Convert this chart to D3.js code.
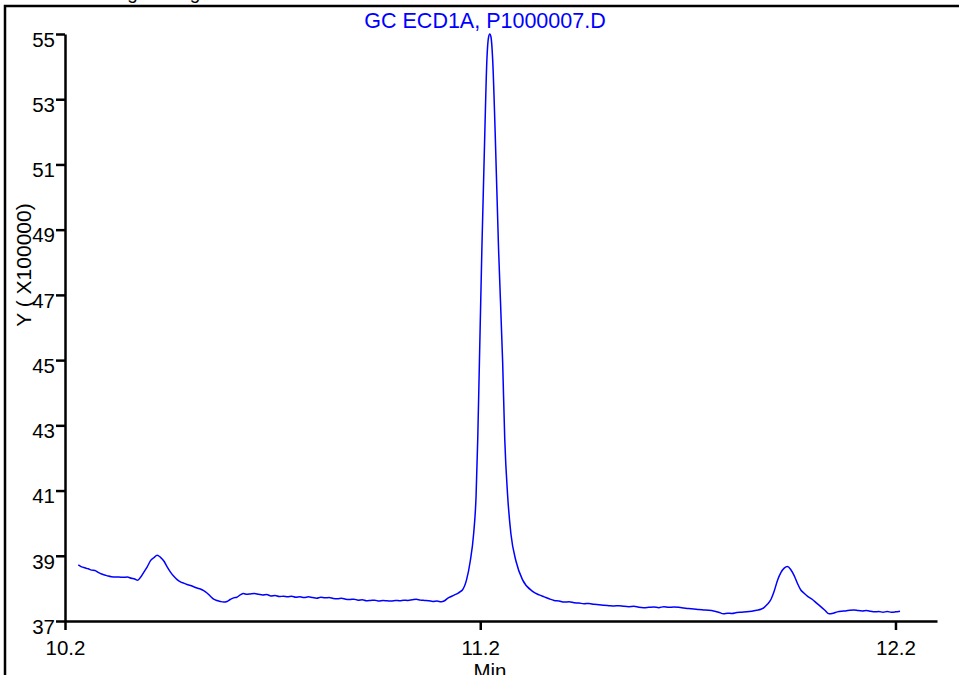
<!DOCTYPE html>
<html>
<head>
<meta charset="utf-8">
<script src="https://cdn.jsdelivr.net/npm/d3@7"></script>
<style>
  html, body { margin: 0; padding: 0; background: #fff; overflow: hidden; }
  svg { display: block; font-family: "Liberation Sans", Arial, sans-serif; }
</style>
</head>
<body>
<svg id="chart" width="959" height="675"></svg>
<script>
// retention time (min) and detector response (x100000)
const times = [
  10.232, 10.240, 10.248, 10.256, 10.264, 10.272, 10.280, 10.288, 10.296, 10.304,
  10.312, 10.320, 10.330, 10.340, 10.350, 10.360, 10.368, 10.375, 10.382, 10.390,
  10.398, 10.406, 10.414, 10.422, 10.430, 10.438, 10.446, 10.454, 10.462, 10.470,
  10.478, 10.486, 10.494, 10.502, 10.510, 10.518, 10.526, 10.534, 10.542, 10.550,
  10.558, 10.566, 10.574, 10.582, 10.590, 10.598, 10.606, 10.614, 10.622, 10.630,
  10.638, 10.646, 10.656, 10.666, 10.676, 10.686, 10.696, 10.706, 10.716, 10.726,
  10.736, 10.746, 10.756, 10.766, 10.776, 10.786, 10.796, 10.806, 10.816, 10.826,
  10.836, 10.846, 10.856, 10.866, 10.876, 10.886, 10.896, 10.906, 10.916, 10.926,
  10.936, 10.946, 10.956, 10.966, 10.976, 10.986, 10.996, 11.006, 11.016, 11.026,
  11.036, 11.046, 11.056, 11.066, 11.076, 11.086, 11.096, 11.106, 11.114, 11.122,
  11.130, 11.138, 11.146, 11.152, 11.157,
  11.167, 11.176, 11.184, 11.190, 11.194, 11.198, 11.204, 11.211, 11.216, 11.220,
  11.223, 11.226, 11.230, 11.236, 11.244, 11.254, 11.259, 11.266, 11.274, 11.286,
  11.302, 11.326, 11.342,
  11.354, 11.366, 11.378, 11.390, 11.402, 11.414, 11.426, 11.438, 11.450, 11.462,
  11.474, 11.486, 11.498, 11.510, 11.522, 11.534, 11.546, 11.558, 11.570, 11.582,
  11.594, 11.606, 11.618, 11.630, 11.642, 11.654, 11.666, 11.678, 11.690, 11.702,
  11.714, 11.726, 11.738, 11.750, 11.762, 11.774, 11.786, 11.796, 11.806, 11.818,
  11.830, 11.842, 11.854, 11.866, 11.876, 11.884, 11.892, 11.900, 11.908, 11.916,
  11.924, 11.932, 11.940, 11.948, 11.956, 11.964, 11.972, 11.980, 11.990, 12.000,
  12.010, 12.020, 12.030, 12.040, 12.050, 12.060, 12.070, 12.080, 12.090, 12.100,
  12.110, 12.120, 12.130, 12.140, 12.150, 12.160, 12.170, 12.180, 12.190, 12.200,
  12.211
];
const response = [
  38.72, 38.66, 38.63, 38.60, 38.56, 38.55, 38.49, 38.44, 38.41, 38.38,
  38.36, 38.35, 38.35, 38.34, 38.35, 38.31, 38.29, 38.25, 38.34, 38.50,
  38.66, 38.85, 38.94, 39.02, 38.95, 38.84, 38.66, 38.50, 38.37, 38.27,
  38.20, 38.16, 38.12, 38.09, 38.05, 38.01, 37.98, 37.93, 37.86, 37.76,
  37.67, 37.63, 37.60, 37.58, 37.60, 37.66, 37.71, 37.73, 37.80, 37.84,
  37.82, 37.83, 37.84, 37.82, 37.80, 37.81, 37.77, 37.78, 37.75, 37.76,
  37.74, 37.76, 37.73, 37.74, 37.72, 37.74, 37.72, 37.70, 37.73, 37.71,
  37.72, 37.69, 37.68, 37.70, 37.67, 37.66, 37.67, 37.64, 37.65, 37.62,
  37.63, 37.64, 37.61, 37.63, 37.62, 37.61, 37.63, 37.62, 37.64, 37.63,
  37.65, 37.67, 37.64, 37.63, 37.62, 37.60, 37.61, 37.59, 37.62, 37.70,
  37.75, 37.80, 37.85, 37.90, 37.95,
  38.26, 38.84, 39.66, 40.84, 42.59, 44.93, 48.45, 51.96, 54.20, 54.90,
  55.00, 54.90, 54.20, 51.96, 48.45, 44.93, 42.59, 40.84, 39.66, 38.84,
  38.26, 37.91, 37.80,
  37.74, 37.68, 37.63, 37.61, 37.58, 37.59, 37.56, 37.55, 37.53, 37.54,
  37.51, 37.50, 37.48, 37.47, 37.46, 37.47, 37.45, 37.44, 37.45, 37.42,
  37.41, 37.42, 37.43, 37.41, 37.44, 37.42, 37.43, 37.42, 37.40, 37.38,
  37.37, 37.35, 37.34, 37.33, 37.31, 37.27, 37.22, 37.24, 37.23, 37.26,
  37.27, 37.28, 37.30, 37.33, 37.36, 37.42, 37.52, 37.66, 37.92, 38.25,
  38.48, 38.62, 38.67, 38.57, 38.39, 38.15, 37.95, 37.85, 37.74, 37.66,
  37.55, 37.44, 37.33, 37.22, 37.24, 37.28, 37.30, 37.31, 37.33, 37.34,
  37.32, 37.31, 37.32, 37.30, 37.28, 37.29, 37.27, 37.29, 37.27, 37.28,
  37.30
];
const xTicks = [10.2, 11.2, 12.2];
const yTicks = [37, 39, 41, 43, 45, 47, 49, 51, 53, 55];
const title = "GC ECD1A, P1000007.D";
const header = "Original Signal";

const svg = d3.select("#chart");
const data = times.map((t, i) => ({ t, v: response[i] }));

const x = d3.scaleLinear().domain([10.2, 12.3]).range([65, 937]);
const y = d3.scaleLinear().domain([37, 55]).range([621, 34]);

// outer frame (runs off the right and bottom of the page)
svg.append("rect")
  .attr("x", 5).attr("y", 6)
  .attr("width", 1000).attr("height", 700)
  .attr("fill", "none").attr("stroke", "#000").attr("stroke-width", 2.5);

// header text, clipped by the top of the page like in the source printout
svg.append("text")
  .attr("x", 102).attr("y", -1)
  .attr("font-size", 19).attr("fill", "#000")
  .text(header);

const xAxis = svg.append("g")
  .attr("transform", `translate(0,${y(37)})`)
  .call(d3.axisBottom(x).tickValues(xTicks).tickFormat(d3.format(".1f"))
    .tickSizeInner(9).tickSizeOuter(0).tickPadding(10));

const yAxis = svg.append("g")
  .attr("transform", `translate(${x(10.2)},0)`)
  .call(d3.axisLeft(y).tickValues(yTicks).tickFormat(d3.format("d"))
    .tickSizeInner(9).tickSizeOuter(0).tickPadding(1));

[xAxis, yAxis].forEach(a => {
  a.select(".domain").attr("stroke", "#000").attr("stroke-width", 2.5);
  a.selectAll(".tick line").attr("stroke", "#000").attr("stroke-width", 2.5);
  a.selectAll(".tick text")
    .attr("fill", "#000").attr("font-size", 20.5)
    .attr("font-family", "Liberation Sans, Arial, sans-serif");
});
yAxis.selectAll(".tick text").attr("dy", "0.6em");

svg.append("text")
  .attr("x", 490).attr("y", 678)
  .attr("text-anchor", "middle").attr("font-size", 20.5).attr("fill", "#000")
  .text("Min");

svg.append("text")
  .attr("transform", "translate(31,265) rotate(-90)")
  .attr("text-anchor", "middle").attr("font-size", 21).attr("fill", "#000")
  .text("Y ( X100000)");

svg.append("text")
  .attr("x", 485).attr("y", 28)
  .attr("text-anchor", "middle").attr("font-size", 21.5).attr("fill", "#0000ff")
  .text(title);

const line = d3.line()
  .x(d => x(d.t))
  .y(d => y(d.v))
  .curve(d3.curveMonotoneX);

svg.append("path")
  .datum(data)
  .attr("fill", "none")
  .attr("stroke", "#0000ff")
  .attr("stroke-width", 1.5)
  .attr("d", line);
</script>
</body>
</html>
